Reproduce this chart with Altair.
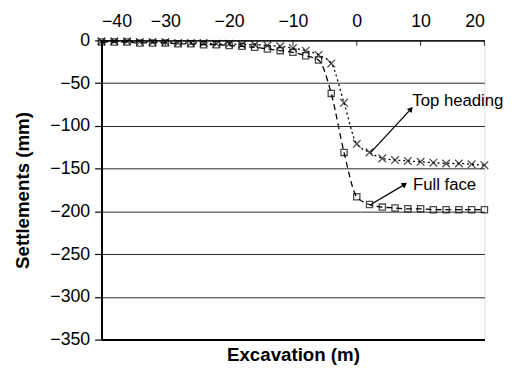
import altair as alt
import pandas as pd

excavation = [-40, -38, -36, -34, -32, -30, -28, -26, -24, -22, -20, -18, -16, -14, -12, -10,
              -8, -6, -4, -2, 0, 2, 4, 6, 8, 10, 12, 14, 16, 18, 20]
top_heading = [-1, -1, -1, -2, -2, -2, -3, -3, -3, -4, -4, -5, -5, -6, -7, -9,
               -12, -17, -27, -73, -121, -131, -138, -140, -141, -142, -143, -144, -144, -145, -146]
full_face = [-2, -2, -2, -3, -3, -3, -4, -4, -5, -5, -6, -7, -8, -10, -12, -14,
             -18, -23, -62, -131, -183, -192, -195, -196, -197, -197, -198, -198, -198, -198, -198]

x_ticks = [-40, -30, -20, -10, 0, 10, 20]
y_ticks = [0, -50, -100, -150, -200, -250, -300, -350]

labels = ["Top heading", "Full face"]
arrow_from_x = [2.2, 2.2]
arrow_from_y = [-131, -192]
arrow_to_x = [8.4, 7.4]
arrow_to_y = [-81, -169]
arrow_angle = [40, 55]
label_x = [8.7, 8.8]
label_y = [-71, -169]

FONT = "Liberation Sans"
W, H = 389, 304

df = pd.DataFrame({
    "x": excavation * 2,
    "y": top_heading + full_face,
    "series": ["Top heading"] * len(excavation) + ["Full face"] * len(excavation),
})
df_top = df[df.series == "Top heading"]
df_full = df[df.series == "Full face"]

ann = pd.DataFrame({"label": labels, "x1": arrow_from_x, "y1": arrow_from_y,
                    "x2": arrow_to_x, "y2": arrow_to_y, "angle": arrow_angle,
                    "lx": label_x, "ly": label_y})

xscale = alt.Scale(domain=[-40, 20], nice=False, zero=False)
yscale = alt.Scale(domain=[-350, 0], nice=False)

X_AXIS = alt.Axis(
    orient="top", values=x_ticks, ticks=False, labelFontSize=18, labelFont=FONT,
    labelPadding=10, domainColor="black", domainWidth=1.5, grid=False, title=None,
    labelColor="black", format="d")
Y_AXIS = alt.Axis(
    values=y_ticks, labelFontSize=18, labelFont=FONT, labelColor="black",
    tickColor="black", tickSize=7, tickWidth=1.2, labelPadding=5,
    domainColor="black", domainWidth=2, grid=True, gridColor="black", gridWidth=1,
    gridOpacity=0.85, title="Settlements (mm)", titleFont=FONT, titleFontSize=19,
    titleFontWeight="bold", titleColor="black", titlePadding=18, format="d")


def X(field):
    return alt.X(field, scale=xscale, axis=None)


def Y(field):
    return alt.Y(field, scale=yscale, axis=Y_AXIS)


line_top = alt.Chart(df_top).mark_line(
    color="black", strokeWidth=1.3, strokeDash=[2, 3], interpolate="monotone"
).encode(x=alt.X("x:Q", scale=xscale, axis=X_AXIS), y=Y("y:Q"))

line_full = alt.Chart(df_full).mark_line(
    color="black", strokeWidth=1.3, strokeDash=[6, 4], interpolate="monotone"
).encode(x=X("x:Q"), y=Y("y:Q"))

pts_top = alt.Chart(df_top).mark_point(
    shape="M-1,-1L1,1M1,-1L-1,1", filled=False, color="black", size=60, strokeWidth=1.3
).encode(x=X("x:Q"), y=Y("y:Q"))

pts_full = alt.Chart(df_full).mark_point(
    shape="square", filled=False, color="black", size=40, strokeWidth=1.3
).encode(x=X("x:Q"), y=Y("y:Q"))

bottom_axis = alt.Chart(pd.DataFrame({"x": x_ticks})).mark_tick(
    color="black", thickness=1.2, size=5, orient="vertical", yOffset=3
).encode(
    x=alt.X("x:Q", scale=xscale, axis=alt.Axis(
        orient="bottom", labels=False, ticks=False, domainColor="black", domainWidth=2,
        grid=False, title="Excavation (m)", titleFont=FONT, titleFontSize=19,
        titleFontWeight="bold", titleColor="black", titlePadding=6)),
    y=alt.value(0),
)

arrows = alt.Chart(ann).mark_rule(color="black", strokeWidth=1.3).encode(
    x=X("x1:Q"), y=Y("y1:Q"), x2="x2:Q", y2="y2:Q")

heads = alt.Chart(ann).mark_point(
    shape="triangle", filled=True, color="black", size=40, opacity=1
).encode(x=X("x2:Q"), y=Y("y2:Q"), angle=alt.Angle("angle:Q", scale=None))

texts = alt.Chart(ann).mark_text(
    align="left", baseline="middle", font=FONT, fontSize=17, color="black"
).encode(x=X("lx:Q"), y=Y("ly:Q"), text="label:N")

chart = alt.layer(
    line_top, line_full, pts_top, pts_full, bottom_axis, arrows, heads, texts
).properties(
    width=W, height=H,
    autosize=alt.AutoSizeParams(type="none"),
    padding={"left": 95, "top": 30, "right": 26, "bottom": 30},
).configure_view(stroke=None).configure(background="white")

chart.save("out.html", embed_options={"renderer": "svg", "actions": False})
